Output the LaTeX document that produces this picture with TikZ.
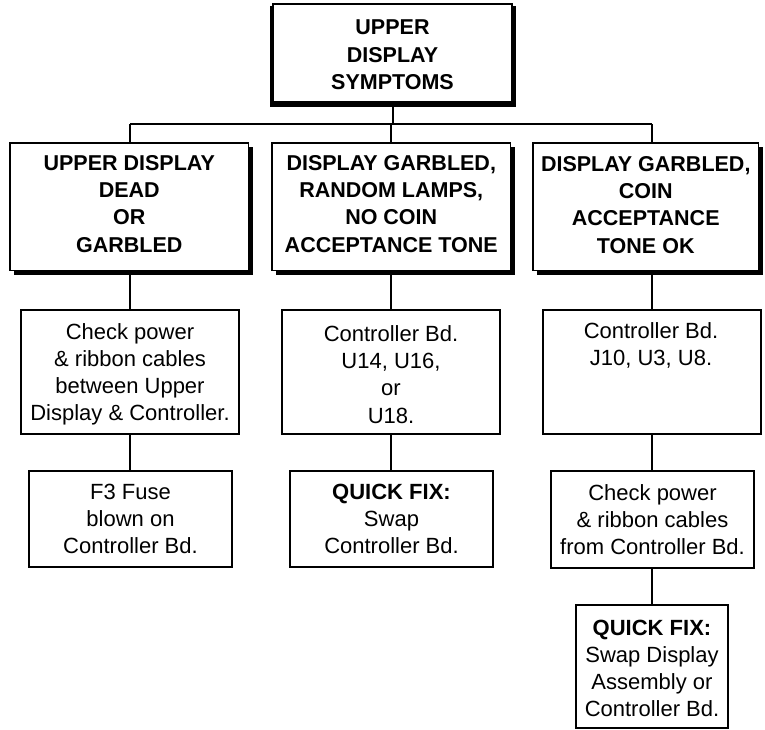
\documentclass[tikz,border=0pt]{standalone}
\usepackage{fontspec}
\setmainfont{Liberation Sans}
\begin{document}
\begin{tikzpicture}[x=1pt,y=-1pt,
  box/.style={draw, line width=1.1pt, fill=white, inner sep=0pt, rectangle},
  shad/.style={fill=black, draw=none},
  txt/.style={align=center, font=\fontsize{22}{27.2}\selectfont, inner sep=0pt},
  btxt/.style={align=center, font=\fontsize{21.5}{27.4}\selectfont\bfseries, inner sep=0pt},
  link/.style={line width=1.1pt}]
\useasboundingbox (0,0) rectangle (765,729);
% shadows
\fill[shad] (269.5,6) rectangle (515.5,106.5);
\fill[shad] (14,147) rectangle (252.5,274.5);
\fill[shad] (276,147) rectangle (514.5,274.5);
\fill[shad] (537,147) rectangle (762.5,274.5);
% boxes
\newcommand\mkbox[5]{\node[box, minimum width={#4-#2}, minimum height={#5-#3}] (#1) at ({(#2+#4)/2},{(#3+#5)/2}) {};}
\mkbox{top}{273}{4}{512}{102}
\mkbox{A2}{10}{143}{248.5}{270.5}
\mkbox{B2}{272}{143}{510.5}{270.5}
\mkbox{C2}{533}{143}{758.5}{270.5}
\mkbox{A3}{21}{310}{239}{434}
\mkbox{B3}{282}{310}{500}{434}
\mkbox{C3}{543}{310}{761}{434}
\mkbox{A4}{29}{471}{232}{567}
\mkbox{B4}{290}{471}{493}{567}
\mkbox{C4}{551}{471}{754}{568}
\mkbox{C5}{576}{605}{728}{728}
% connector columns
\coordinate (colT) at (393,0);
\coordinate (colA) at (130,0);
\coordinate (colB) at (391,0);
\coordinate (colC) at (652,0);
\coordinate (bus) at (0,124);
\draw[link] (colT |- top.south) -- (colT |- bus);
\draw[link] (colA |- bus) -- (colC |- bus);
\draw[link] (colA |- bus) -- (colA |- A2.north);
\draw[link] (colB |- bus) -- (colB |- B2.north);
\draw[link] (colC |- bus) -- (colC |- C2.north);
\draw[link] (colA |- A2.south) -- (colA |- A3.north);
\draw[link] (colA |- A3.south) -- (colA |- A4.north);
\draw[link] (colB |- B2.south) -- (colB |- B3.north);
\draw[link] (colB |- B3.south) -- (colB |- B4.north);
\draw[link] (colC |- C2.south) -- (colC |- C3.north);
\draw[link] (colC |- C3.south) -- (colC |- C4.north);
\draw[link] (colC |- C4.south) -- (colC |- C5.north);
% texts
\node[btxt] (tT) at ([yshift=-2]top.center) {UPPER\\DISPLAY\\SYMPTOMS};
\node[btxt] (tA2) at ([yshift=3]A2.center) {UPPER DISPLAY\\DEAD\\OR\\GARBLED};
\node[btxt] (tB2) at ([yshift=3]B2.center) {DISPLAY GARBLED,\\RANDOM LAMPS,\\NO COIN\\ACCEPTANCE TONE};
\node[btxt] (tC2) at ([yshift=2]C2.center) {DISPLAY GARBLED,\\COIN\\ACCEPTANCE\\TONE OK};
\node[txt] (tA3) at ([yshift=-2.5]A3.center) {Check power\\\& ribbon cables\\between Upper\\Display \& Controller.};
\node[txt] (tB3) at ([yshift=-2.5]B3.center) {Controller Bd.\\U14, U16,\\or\\U18.};
\node[txt] (tC3) at ([xshift=-1]C3.center |- 0,345.5) {Controller Bd.\\J10, U3, U8.};
\node[txt] (tA4) at (A4.center) {F3 Fuse\\blown on\\Controller Bd.};
\node[txt] (tB4) at (B4.center) {\textbf{QUICK FIX:}\\Swap\\Controller Bd.};
\node[txt] (tC4) at (C4.center) {Check power\\\& ribbon cables\\from Controller Bd.};
\node[txt] (tC5) at ([yshift=-2]C5.center) {\textbf{QUICK FIX:}\\Swap Display\\Assembly or\\Controller Bd.};
\end{tikzpicture}
\end{document}
